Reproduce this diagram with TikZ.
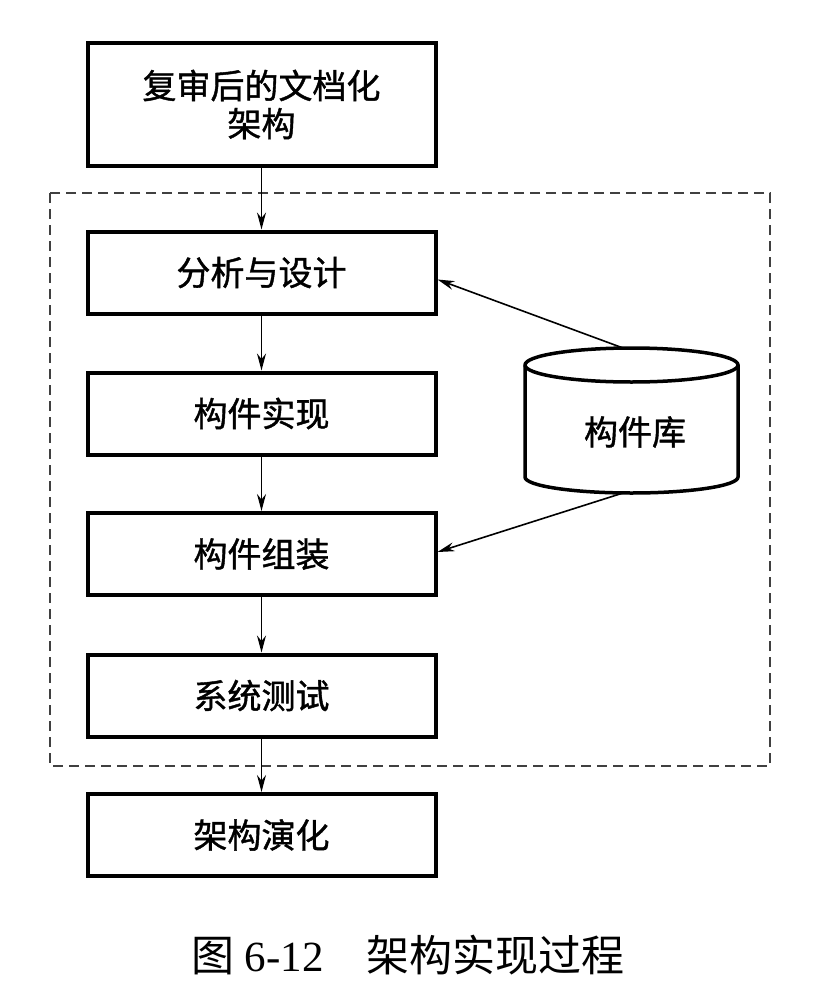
\documentclass[tikz,border=0pt]{standalone}
\usepackage{fontspec}
\newfontfamily\cjk[FakeBold=1.2]{Noto Sans CJK SC}
\newfontfamily\cjkcap{Noto Sans CJK SC}
\newfontfamily\serifnum{Liberation Serif}
\usetikzlibrary{arrows.meta,calc}
\begin{document}
\begin{tikzpicture}[x=1pt,y=-1pt,
  box/.style={draw,line width=4pt,minimum width=348pt,minimum height=82pt,inner sep=0pt,
    font=\cjk\fontsize{34}{38}\selectfont,align=center},
  flow/.style={line width=1.6pt,-{Stealth[length=17pt,width=9pt]}},
  frame/.style={line width=2.5pt,dash pattern=on 10pt off 6pt,black!75},
  cyl/.style={line width=3.5pt}]
\useasboundingbox (0,0) rectangle (816,990);
\fill[white] (0,0) rectangle (816,990);
% dashed frame
\draw[frame] (50,193) rectangle (770,766);
% boxes
\node[box,minimum height=122pt] (b1) at (261.5,104.5) {复审后的文档化\\架构};
\node[box] (b2) at (261.5,272.5) {分析与设计};
\node[box] (b3) at (261.5,413.5) {构件实现};
\node[box] (b4) at (261.5,554) {构件组装};
\node[box] (b5) at (261.5,695.5) {系统测试};
\node[box] (b6) at (261.5,835) {架构演化};
% cylinder
\draw[cyl,fill=white] (525,365) -- (525,477) arc[start angle=180,end angle=0,x radius=106.5,y radius=16]
  -- (738,365) arc[start angle=0,end angle=-180,x radius=106.5,y radius=17] -- cycle;
\draw[cyl] (525,365) arc[start angle=180,end angle=0,x radius=106.5,y radius=17];
\node[font=\cjk\fontsize{34}{38}\selectfont] (lib) at (635,432) {构件库};
\coordinate (libtop) at (623,348);
\coordinate (libbot) at (623,493);
% connectors
\draw[flow] (b1.south) -- (b2.north);
\draw[flow] (b2.south) -- (b3.north);
\draw[flow] (b3.south) -- (b4.north);
\draw[flow] (b4.south) -- (b5.north);
\draw[flow] (b5.south) -- (b6.north);
\draw[flow] (libtop) -- ([yshift=-7pt]b2.east);
\draw[flow] (libbot) -- ([yshift=2pt]b4.east);
% caption
\node[font=\cjkcap\fontsize{43}{48}\selectfont,inner sep=0pt] (cap) at (408,955)
  {图\hspace{0.25em}{\serifnum 6-12}\hspace{1em}架构实现过程};
\end{tikzpicture}
\end{document}
